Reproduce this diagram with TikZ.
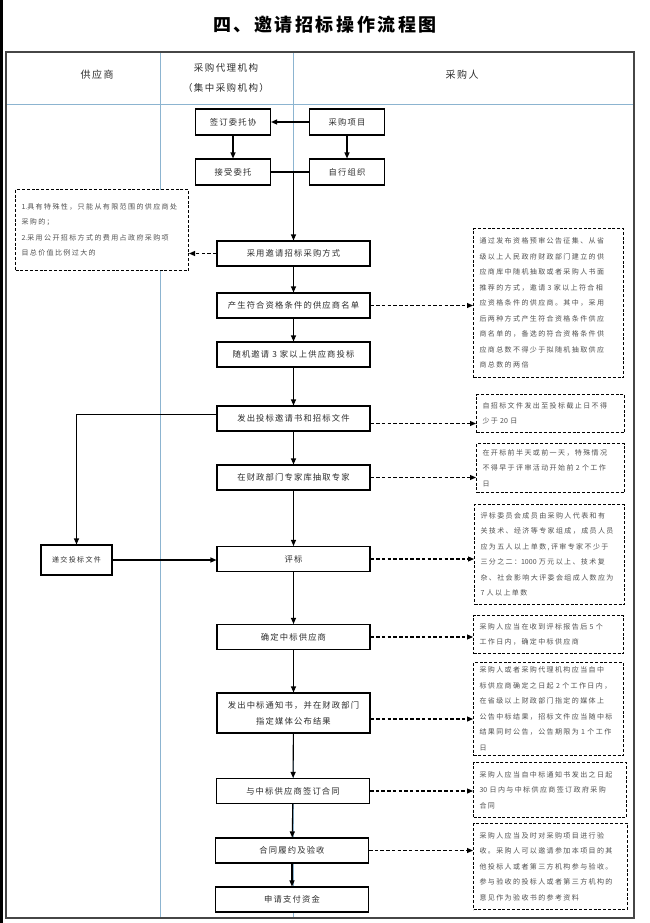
\documentclass[tikz,border=0pt]{standalone}
\usepackage{fontspec}
\usepackage{tikz}
\usetikzlibrary{arrows.meta,positioning}
\newfontfamily\titlecjk[LetterSpace=14]{Noto Sans CJK SC}
\newfontfamily\headcjk[LetterSpace=15]{Noto Sans CJK SC}
\newfontfamily\boxcjk[LetterSpace=14]{Noto Sans CJK SC}
\newfontfamily\memocjk[LetterSpace=20]{Noto Sans CJK SC}
\newfontfamily\digitcjk{Noto Sans CJK SC}
\newcommand{\nd}[1]{{\digitcjk #1}}
\definecolor{laneblue}{RGB}{140,180,208}
\definecolor{framegrey}{RGB}{70,70,70}
\definecolor{inkgrey}{RGB}{45,45,45}
\definecolor{memogrey}{RGB}{80,80,80}

\begin{document}
\begin{tikzpicture}[x=1pt,y=-1pt,
  stepbox/.style={draw,line width=1.1pt,fill=white,minimum width=153pt,minimum height=25pt,inner sep=1pt,align=center,text=inkgrey,font=\boxcjk\fontsize{8.3}{16}\selectfont},
  smallbox/.style={stepbox,minimum width=75pt,minimum height=26pt},
  memo/.style={draw,line width=1pt,dash pattern=on 3pt off 1.8pt,fill=white,anchor=north west,align=left,inner xsep=6pt,inner ysep=2pt,text=memogrey,font=\memocjk\fontsize{7}{15.5}\selectfont},
  arr/.style={-{Triangle[length=6pt,width=5pt]},line width=1.1pt},
  hint/.style={arr,dash pattern=on 3.5pt off 2.2pt},
  lane/.style={laneblue,line width=0.8pt}]
\useasboundingbox (0,0) rectangle (649,923);
\fill[black] (0,0) rectangle (3,923);
\node[font=\titlecjk\bfseries\fontsize{18}{20}\selectfont] (title) at (325,25) {四、邀请招标操作流程图};
\draw[lane] (160,52) -- (160,918);
\draw[lane] (293,52) -- (293,918);
\draw[lane] (6,104) -- (634,104);
\draw[framegrey,line width=1.6pt] (6,52) rectangle (634,918);
\node[font=\headcjk\fontsize{10}{12}\selectfont,text=inkgrey] (supplier) at (97,75) {供应商};
\node[font=\headcjk\fontsize{9.5}{20}\selectfont,text=inkgrey,align=center] (agency) at (226,78) {采购代理机构\\（集中采购机构）};
\node[font=\headcjk\fontsize{10}{12}\selectfont,text=inkgrey] (buyer) at (462,75) {采购人};

\node[smallbox] (qianding) at (233,122) {签订委托协};
\node[smallbox] (xiangmu) at (347,122) {采购项目};
\node[smallbox] (jieshou) at (233,172) {接受委托};
\node[smallbox] (zixing) at (347,172) {自行组织};
\node[stepbox] (caiyong) at (293.5,253.5) {采用邀请招标采购方式};
\node[stepbox] (chansheng) at (293.5,305.5) {产生符合资格条件的供应商名单};
\node[stepbox] (suiji) at (293.5,354.5) {随机邀请 \nd{3} 家以上供应商投标};
\node[stepbox] (fachu) at (293.5,418.5) {发出投标邀请书和招标文件};
\node[stepbox] (chouqu) at (293.5,477.5) {在财政部门专家库抽取专家};
\node[stepbox] (pingbiao) at (293.5,559) {评标};
\node[stepbox] (queding) at (293.5,637) {确定中标供应商};
\node[stepbox,minimum height=40pt] (tongzhi) at (293.5,713) {发出中标通知书，并在财政部门\\指定媒体公布结果};
\node[stepbox] (qianyue) at (293,791) {与中标供应商签订合同};
\node[stepbox] (lvyue) at (292,850.5) {合同履约及验收};
\node[stepbox] (zhifu) at (292,899.5) {申请支付资金};
\node[smallbox,minimum width=71pt,minimum height=30pt,font=\memocjk\fontsize{7}{9}\selectfont] (dijiao) at (76.5,560) {递交投标文件};

\node[memo,text width=161pt,minimum height=81pt] (tiaojian) at (15,189)
 {\nd{1.}具有特殊性，只能从有限范围的供应商处\\采购的；\\\nd{2.}采用公开招标方式的费用占政府采购项\\目总价值比例过大的};
\node[memo,text width=138pt,minimum height=149pt] (mingdan) at (473,228)
 {通过发布资格预审公告征集、从省\\级以上人民政府财政部门建立的供\\应商库中随机抽取或者采购人书面\\推荐的方式，邀请 \nd{3} 家以上符合相\\应资格条件的供应商。其中，采用\\后两种方式产生符合资格条件供应\\商名单的，备选的符合资格条件供\\应商总数不得少于拟随机抽取供应\\商总数的两倍};
\node[memo,text width=136pt,minimum height=38pt] (qixian) at (476,394)
 {自招标文件发出至投标截止日不得\\少于 \nd{20} 日};
\node[memo,text width=136pt,minimum height=49pt] (kaibiao) at (476,443)
 {在开标前半天或前一天，特殊情况\\不得早于评审活动开始前 \nd{2} 个工作\\日};
\node[memo,text width=138pt,minimum height=100pt] (weiyuan) at (474,504)
 {评标委员会成员由采购人代表和有\\关技术、经济等专家组成，成员人员\\应为五人以上单数,评审专家不少于\\三分之二：\nd{1000} 万元以上、技术复\\杂、社会影响大评委会组成人数应为\\\nd{7} 人以上单数};
\node[memo,text width=138pt,minimum height=38pt] (dingbiao) at (473,615)
 {采购人应当在收到评标报告后 \nd{5} 个\\工作日内，确定中标供应商};
\node[memo,text width=138pt,minimum height=93pt] (gonggao) at (473,662)
 {采购人或者采购代理机构应当自中\\标供应商确定之日起 \nd{2} 个工作日内，\\在省级以上财政部门指定的媒体上\\公告中标结果，招标文件应当随中标\\结果同时公告，公告期限为 \nd{1} 个工作\\日};
\node[memo,text width=141pt,minimum height=55pt] (hetong) at (473,762)
 {采购人应当自中标通知书发出之日起\\\nd{30} 日内与中标供应商签订政府采购\\合同};
\node[memo,text width=142pt,minimum height=86pt] (yanshou) at (473,823)
 {采购人应当及时对采购项目进行验\\收。采购人可以邀请参加本项目的其\\他投标人或者第三方机构参与验收。\\参与验收的投标人或者第三方机构的\\意见作为验收书的参考资料};

\draw[arr] (xiangmu.west) -- (qianding.east);
\draw[arr] (qianding) -- (jieshou);
\draw[arr] (xiangmu) -- (zixing);
\draw[line width=1.1pt] (jieshou.east) -- (zixing.west);
\draw[arr] (jieshou.east -| caiyong.north) -- (caiyong.north);
\draw[arr] (caiyong) -- (chansheng);
\draw[arr] (chansheng) -- (suiji);
\draw[arr] (suiji) -- (fachu);
\draw[arr] (fachu) -- (chouqu);
\draw[arr] (chouqu) -- (pingbiao);
\draw[arr] (pingbiao) -- (queding);
\draw[arr] (queding) -- (tongzhi);
\draw[arr] (tongzhi) -- (qianyue);
\draw[arr] (qianyue) -- (lvyue);
\draw[arr] (lvyue) -- (zhifu);
\draw[arr] ([yshift=4pt]fachu.west) -| (dijiao.north);
\draw[arr] (dijiao.east) -- (pingbiao.west |- dijiao.east);

\draw[hint] (caiyong.west) -- (caiyong.west -| tiaojian.east);
\draw[hint] (chansheng.east) -- (chansheng.east -| mingdan.west);
\draw[hint] ([yshift=-5pt]fachu.east) -- ([yshift=-5pt]fachu.east -| qixian.west);
\draw[hint] (chouqu.east) -- (chouqu.east -| kaibiao.west);
\draw[hint] (pingbiao.east) -- (pingbiao.east -| weiyuan.west);
\draw[hint] (queding.east) -- (queding.east -| dingbiao.west);
\draw[hint] ([yshift=-6pt]tongzhi.east) -- ([yshift=-6pt]tongzhi.east -| gonggao.west);
\draw[hint] (qianyue.east) -- (qianyue.east -| hetong.west);
\draw[hint] (lvyue.east) -- (lvyue.east -| yanshou.west);
\end{tikzpicture}
\end{document}
